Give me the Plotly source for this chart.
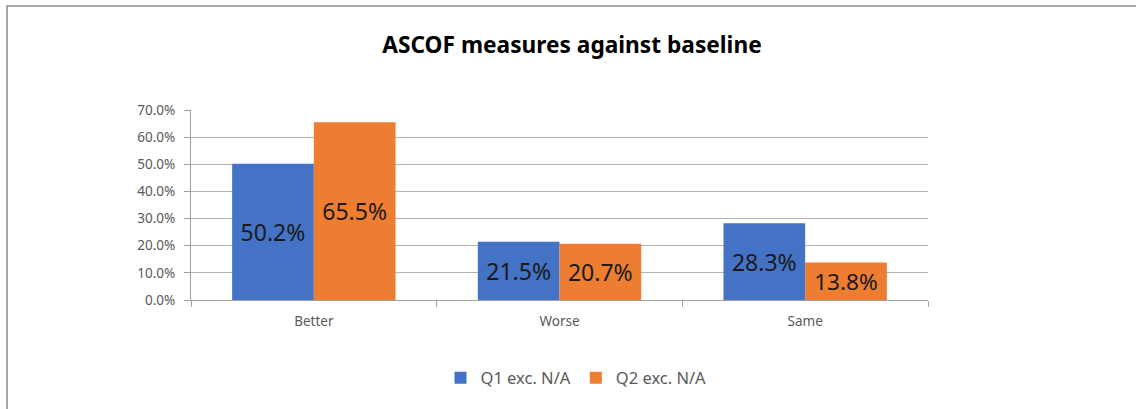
import plotly.graph_objects as go

categories = ["Better", "Worse", "Same"]
q1_values = [0.502, 0.215, 0.283]
q2_values = [0.655, 0.207, 0.138]
series_names = ["Q1 exc. N/A", "Q2 exc. N/A"]
title_text = "ASCOF measures against baseline"

W, H = 1136, 409
L, R, T, B = 191, 928, 110, 300
pw, ph = R - L, B - T

def px_x(x):
    return (x - L) / pw

def px_y(y):
    return (B - y) / ph

fig = go.Figure()
for name, vals, col in [(series_names[0], q1_values, "#4472C4"),
                        (series_names[1], q2_values, "#ED7D31")]:
    fig.add_trace(go.Bar(
        x=categories, y=vals, name=name, marker=dict(color=col, line=dict(width=0)),
        texttemplate="%{y:.1%}", textposition="inside", insidetextanchor="middle",
        textangle=0,
        textfont=dict(family="Noto Sans", size=23, color="#1a1a1a"),
        hoverinfo="skip",
    ))

fig.update_layout(
    width=W, height=H,
    margin=dict(l=L, r=W - R, t=T, b=H - B, pad=0),
    paper_bgcolor="white", plot_bgcolor="white",
    barmode="group", bargap=0.335, bargroupgap=0,
    font=dict(family="Noto Sans", size=12, color="#595959"),
    title=dict(text="<b>" + title_text + "</b>", x=572 / W,
               xanchor="center", y=1 - 45 / H, yanchor="middle",
               font=dict(family="Noto Sans", size=22.7, color="#000000")),
    legend=dict(orientation="h", x=px_x(576), xanchor="center",
                y=px_y(378), yanchor="middle",
                font=dict(size=16.5, color="#595959"), itemwidth=30,
                tracegroupgap=0),
    uniformtext=dict(mode=False),
    showlegend=True,
)
fig.update_yaxes(range=[0, 0.7], dtick=0.1, tickformat=".1%",
                 showgrid=True, gridcolor="#b4b4b4", gridwidth=1,
                 showline=True, linecolor="#a0a0a0", linewidth=1,
                 ticks="outside", ticklen=6, tickcolor="#a0a0a0",
                 ticklabelstandoff=6,
                 zeroline=False, tickfont=dict(size=13.5, color="#595959"))
fig.update_xaxes(showline=True, linecolor="#a0a0a0", linewidth=1,
                 ticks="outside", tickson="boundaries", ticklen=6,
                 tickcolor="#a0a0a0", showgrid=False,
                 ticklabelstandoff=9,
                 tickfont=dict(size=13.5, color="#595959"))

fig.add_shape(type="rect", xref="paper", yref="paper",
              x0=px_x(7), x1=px_x(1145), y0=px_y(420), y1=px_y(6),
              line=dict(color="#8c8c8c", width=1.5), fillcolor="rgba(0,0,0,0)",
              layer="below")

fig.write_html("out.html", config={"displayModeBar": False},
               post_script="document.body.style.margin='0';document.body.style.overflow='hidden';")
